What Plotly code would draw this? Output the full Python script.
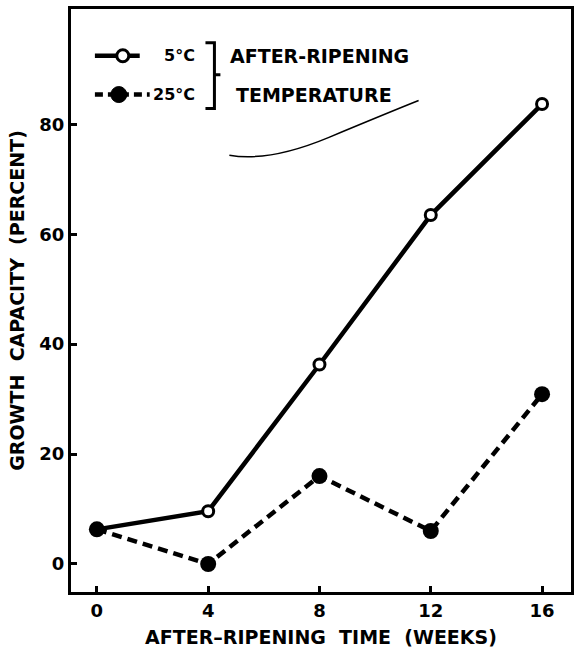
import plotly.graph_objects as go

# Data
weeks = [0, 4, 8, 12, 16]
cap_5c = [6.3, 9.6, 36.3, 63.5, 83.7]
cap_25c = [6.3, 0.0, 16.0, 6.0, 30.9]
x_ticks = [0, 4, 8, 12, 16]
y_ticks = [0, 20, 40, 60, 80]
legend_labels = ["5°C", "25°C"]
bracket_text = ["AFTER-RIPENING", "TEMPERATURE"]

W, H = 580, 659
L, R, T, B = 71, 7, 6, 67
FONT = "DejaVu Sans"


def px(x):
    return (x - L) / (W - L - R)


def py(y):
    return (H - B - y) / (H - T - B)


fig = go.Figure()
fig.add_trace(go.Scatter(
    x=weeks, y=cap_5c, mode="lines+markers", name=legend_labels[0],
    line=dict(color="black", width=4.5),
    marker=dict(symbol="circle", size=11, color="white",
                line=dict(color="black", width=3)),
    showlegend=False))
fig.add_trace(go.Scatter(
    x=weeks, y=cap_25c, mode="lines+markers", name=legend_labels[1],
    line=dict(color="black", width=4.5, dash="10px,6px"),
    marker=dict(symbol="circle", size=16, color="black"),
    showlegend=False))

shapes = []
annotations = []
y1, y2 = 53, 92
shapes.append(dict(type="line", xref="paper", yref="paper",
                   x0=px(95), x1=px(140), y0=py(y1), y1=py(y1),
                   line=dict(color="black", width=4.5)))
shapes.append(dict(type="circle", xref="paper", yref="paper",
                   xsizemode="pixel", ysizemode="pixel",
                   xanchor=px(123), yanchor=py(y1),
                   x0=-6, x1=6, y0=-6, y1=6,
                   fillcolor="white", line=dict(color="black", width=3)))
shapes.append(dict(type="line", xref="paper", yref="paper",
                   x0=px(95), x1=px(150), y0=py(y2), y1=py(y2),
                   line=dict(color="black", width=4.5, dash="8px,5px")))
shapes.append(dict(type="circle", xref="paper", yref="paper",
                   xsizemode="pixel", ysizemode="pixel",
                   xanchor=px(119), yanchor=py(y2),
                   x0=-8, x1=8, y0=-8, y1=8,
                   fillcolor="black", line=dict(color="black", width=1)))
bx, bl, br = 215, 206, 221
path = (f"M{px(bl)},{py(40)} L{px(bx)},{py(40)} L{px(bx)},{py(106)} "
        f"L{px(bl)},{py(106)} M{px(bx)},{py(72)} L{px(br)},{py(72)}")
shapes.append(dict(type="path", xref="paper", yref="paper", path=path,
                   line=dict(color="black", width=3)))
shapes.append(dict(type="path", xref="paper", yref="paper",
                   path=(f"M{px(230)},{py(153)} Q{px(270)},{py(160)} "
                         f"{px(330)},{py(135)} T{px(420)},{py(98)}"),
                   line=dict(color="black", width=1.5)))

for txt, yy in zip(legend_labels, [y1, y2]):
    annotations.append(dict(xref="paper", yref="paper", x=px(198), y=py(yy),
                            xanchor="right", yanchor="middle", text=txt,
                            showarrow=False,
                            font=dict(family=FONT, size=16, color="black", weight="bold")))
annotations.append(dict(xref="paper", yref="paper", x=px(229), y=py(y1),
                        xanchor="left", yanchor="middle", text=bracket_text[0],
                        showarrow=False,
                        font=dict(family=FONT, size=19, color="black", weight="bold")))
annotations.append(dict(xref="paper", yref="paper", x=px(235), y=py(y2),
                        xanchor="left", yanchor="middle", text=bracket_text[1],
                        showarrow=False,
                        font=dict(family=FONT, size=19, color="black", weight="bold")))

tickfont = dict(family=FONT, size=18, color="black", weight="bold")
titlefont = dict(family=FONT, size=19, color="black", weight="bold")

fig.update_layout(
    width=W, height=H,
    margin=dict(l=L, r=R, t=T, b=B),
    paper_bgcolor="white", plot_bgcolor="white",
    shapes=shapes, annotations=annotations,
    xaxis=dict(range=[-0.93, 17.04], tickvals=x_ticks,
               ticktext=[str(v) for v in x_ticks],
               ticks="inside", ticklen=6, tickwidth=3, tickcolor="black",
               showline=True, linecolor="black", linewidth=3, mirror=True,
               showgrid=False, zeroline=False, tickfont=tickfont,
               title=dict(text="AFTER\u2013RIPENING  TIME  (WEEKS)",
                          font=titlefont, standoff=12)),
    yaxis=dict(range=[-5.1, 101], tickvals=y_ticks,
               ticktext=[str(v) for v in y_ticks],
               ticks="inside", ticklen=6, tickwidth=3, tickcolor="black",
               showline=True, linecolor="black", linewidth=3, mirror=True,
               showgrid=False, zeroline=False, tickfont=tickfont,
               title=dict(text="GROWTH  CAPACITY  (PERCENT)",
                          font=titlefont, standoff=10)),
)

fig.write_html("out.html")
